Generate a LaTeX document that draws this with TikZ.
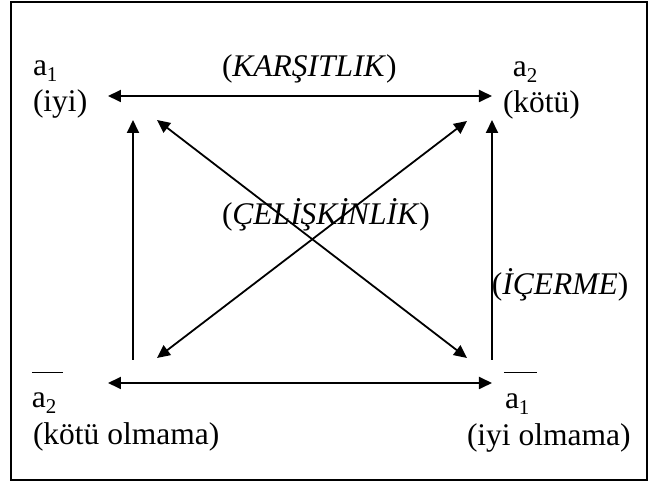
\documentclass[tikz,border=0pt]{standalone}
\usepackage{fontspec}
\setmainfont{Liberation Serif}
\usetikzlibrary{arrows.meta}
\newcommand{\sbs}[1]{\raisebox{-0.18em}{\fontsize{10.5}{12}\selectfont #1}}
\begin{document}
\begin{tikzpicture}[x=0.5pt,y=-0.5pt,
  lbl/.style={anchor=base west,inner sep=0pt,outer sep=0pt,font=\fontsize{15.75}{18}\selectfont},
  arr/.style={line width=0.9pt,-{Triangle[length=6.5pt,width=6pt]}},
  darr/.style={line width=0.9pt,{Triangle[length=6.5pt,width=6pt]}-{Triangle[length=6.5pt,width=6pt]}},
  frame/.style={line width=0.6pt},
  bar/.style={line width=0.5pt}]
\useasboundingbox (0,0) rectangle (650,486);
\draw[frame] (11,2) rectangle (647,480);
% labels
\node[lbl] (a1t) at (33,76) {a\sbs{1}};
\node[lbl] (iyi) at (33,112) {(iyi)};
\node[lbl] (a2t) at (513,77) {a\sbs{2}};
\node[lbl] (kotu) at (503,113) {(kötü)};
\node[lbl] (a2b) at (32,408) {a\sbs{2}};
\node[lbl] (kotuol) at (33,445) {(kötü olmama)};
\node[lbl] (a1b) at (505,409) {a\sbs{1}};
\node[lbl] (iyiol) at (467,446) {(iyi olmama)};
\node[lbl] (kars) at (222,77) {(\textit{KARŞITLIK})};
\node[lbl] (celis) at (222,225) {(\textit{ÇELİŞKİNLİK})};
\node[lbl] (icer) at (492,295) {(\textit{İÇERME})};
% overlines
\draw[bar] (32,373) -- (63,373);
\draw[bar] (504,373) -- (537,373);
% arrow end points
\coordinate (tl) at (108,96);
\coordinate (tr) at (492,96);
\coordinate (bl) at (108,383);
\coordinate (br) at (492,383);
\coordinate (lvb) at (133,360);
\coordinate (lvt) at (133,120);
\coordinate (rvb) at (492,360);
\coordinate (rvt) at (492,120);
\coordinate (d1a) at (157,120);
\coordinate (d1b) at (467,358);
\coordinate (d2a) at (157,358);
\coordinate (d2b) at (467,121);
% connectors
\draw[darr] (tl) -- (tr);
\draw[darr] (bl) -- (br);
\draw[arr] (lvb) -- (lvt);
\draw[arr] (rvb) -- (rvt);
\draw[darr] (d1a) -- (d1b);
\draw[darr] (d2a) -- (d2b);
\end{tikzpicture}
\end{document}
